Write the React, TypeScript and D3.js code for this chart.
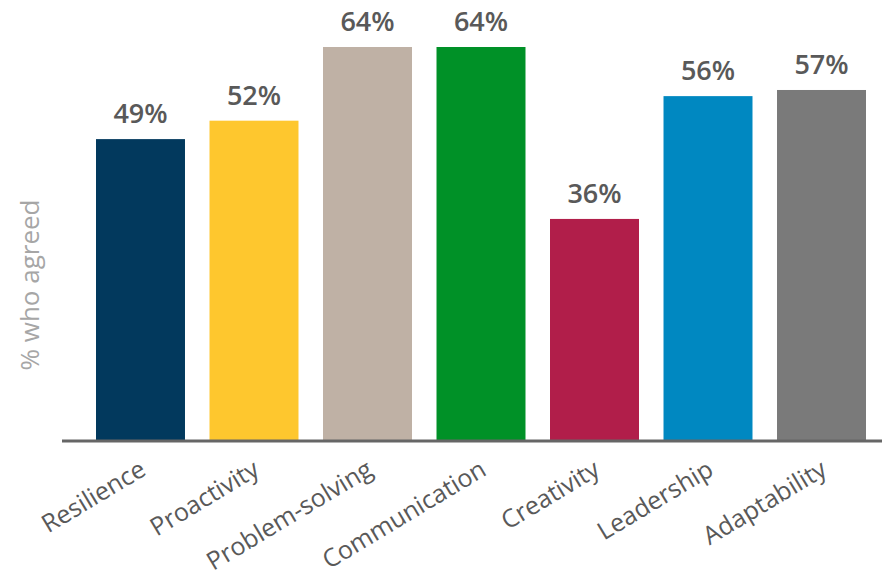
import React, { useEffect, useRef } from 'react';
import * as d3 from 'd3';

const categories = ['Resilience', 'Proactivity', 'Problem-solving', 'Communication', 'Creativity', 'Leadership', 'Adaptability'];
const values = [49, 52, 64, 64, 36, 56, 57];
const colors = ['#02395d', '#fec72e', '#bfb1a5', '#009127', '#b11e4a', '#0088c1', '#7a7a7a'];
const yLabel = '% who agreed';

const App: React.FC = () => {
  const svgRef = useRef<SVGSVGElement>(null);

  useEffect(() => {
    const svg = d3.select(svgRef.current);
    svg.selectAll('*').remove();

    const width = 882;
    const height = 575;
    const baseline = 440;
    const font = '"Open Sans", "Segoe UI", sans-serif';

    const x = d3.scaleBand<string>()
      .domain(categories)
      .range([96, 866])
      .paddingInner(0.216)
      .paddingOuter(0);

    const y = d3.scaleLinear()
      .domain([0, 64])
      .range([baseline, 47]);

    svg.attr('width', width).attr('height', height);

    // Bars
    svg.selectAll('rect.bar')
      .data(values)
      .enter()
      .append('rect')
      .attr('class', 'bar')
      .attr('x', (_, i) => x(categories[i]) as number)
      .attr('y', d => y(d))
      .attr('width', x.bandwidth())
      .attr('height', d => baseline - y(d))
      .attr('fill', (_, i) => colors[i]);

    // Value labels
    svg.selectAll('text.value')
      .data(values)
      .enter()
      .append('text')
      .attr('class', 'value')
      .attr('x', (_, i) => (x(categories[i]) as number) + x.bandwidth() / 2)
      .attr('y', d => y(d) - 16)
      .attr('text-anchor', 'middle')
      .style('font-family', font)
      .style('font-size', '27px')
      .style('font-weight', 600)
      .style('fill', '#595959')
      .text(d => `${d}%`);

    // Baseline axis
    svg.append('line')
      .attr('x1', 62)
      .attr('x2', width)
      .attr('y1', baseline + 1)
      .attr('y2', baseline + 1)
      .attr('stroke', '#666666')
      .attr('stroke-width', 3);

    // Category labels
    svg.selectAll('text.cat')
      .data(categories)
      .enter()
      .append('text')
      .attr('class', 'cat')
      .attr('transform', d => `translate(${(x(d) as number) + x.bandwidth() / 2 + 7},${baseline + 34}) rotate(-31)`)
      .attr('text-anchor', 'end')
      .style('font-family', font)
      .style('font-size', '25px')
      .style('fill', '#595959')
      .text(d => d);

    // Y axis title
    svg.append('text')
      .attr('transform', 'translate(39,285) rotate(-90)')
      .attr('text-anchor', 'middle')
      .style('font-family', font)
      .style('font-size', '26px')
      .style('fill', '#a6a6a6')
      .text(yLabel);
  }, []);

  return <svg ref={svgRef} style={{ position: 'absolute', left: 0, top: 0 }}></svg>;
};

export default App;
